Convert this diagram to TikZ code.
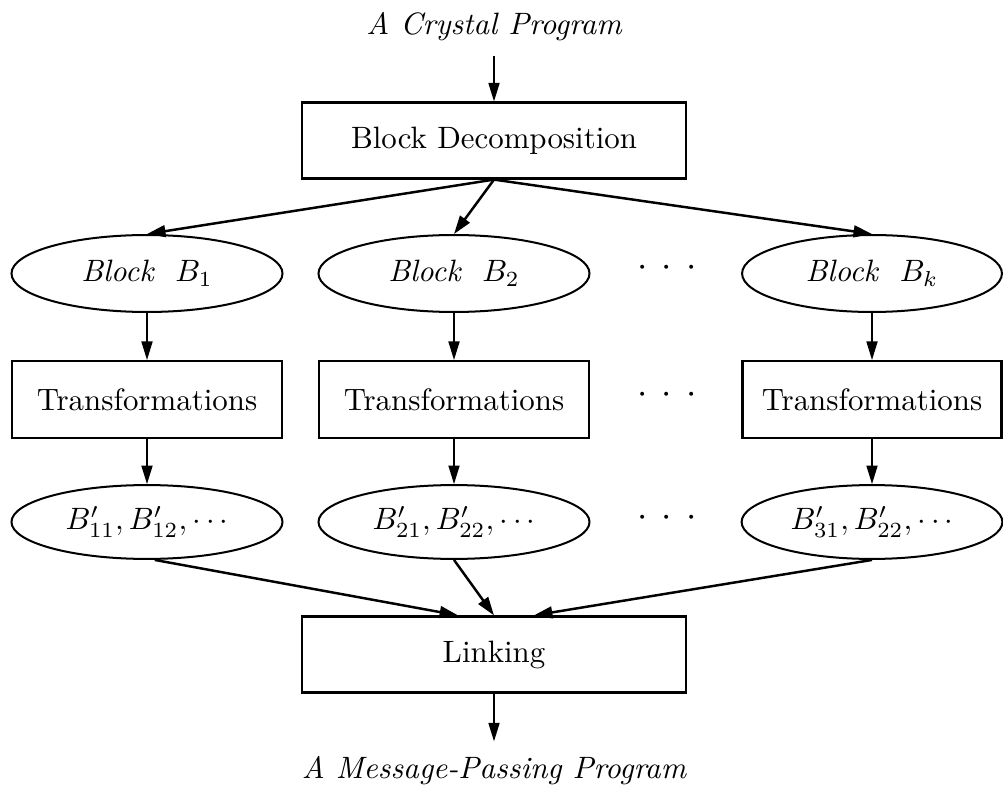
\documentclass[tikz,border=0pt]{standalone}
\usetikzlibrary{shapes.geometric,arrows.meta}
\begin{document}
\begin{tikzpicture}[x=0.3236pt,y=-0.3236pt,
  bigbox/.style={draw,line width=0.7pt,rectangle,inner sep=0pt,
    minimum width=124.4pt,minimum height=24.6pt},
  stagebox/.style={draw,line width=0.7pt,rectangle,inner sep=0pt,
    minimum width=87.4pt,minimum height=24.9pt},
  blob/.style={draw,line width=0.65pt,ellipse,inner sep=0pt,
    minimum width=87.7pt,minimum height=24.9pt},
  endlabel/.style={inner xsep=0pt,inner ysep=4.5pt,anchor=base,font=\itshape},
  flow/.style={line width=0.45pt,-{Triangle[length=6pt,width=3.6pt]}},
  fan/.style={line width=0.8pt,-{Triangle[length=6pt,width=3.8pt]}},
  more/.style={anchor=base,inner sep=0pt,font=\large}
]
\useasboundingbox (0,0) rectangle (1003,785);

% input and decomposition
\node[endlabel] (crystal) at (494,35) {A Crystal Program};
\node[bigbox] (bd) at (494,140.5) {Block Decomposition};

% blocks
\node[blob] (b1) at (147,273.5) {\textit{Block}~~$B_1$};
\node[blob] (b2) at (454,273.5) {\textit{Block}~~$B_2$};
\node[blob,minimum width=84.1pt] (bk) at (872,273.5) {\textit{Block}~~$B_k$};

% transformations
\node[stagebox] (t1) at (147,399.5) {Transformations};
\node[stagebox] (t2) at (454,399.5) {Transformations};
\node[stagebox,minimum width=83.8pt] (tk) at (872,399.5) {Transformations};

% transformed blocks
\node[blob,minimum height=23.9pt] (p1) at (147,522) {$B'_{11},B'_{12},\cdots$};
\node[blob,minimum height=23.9pt] (p2) at (454,522) {$B'_{21},B'_{22},\cdots$};
\node[blob,minimum height=23.9pt,minimum width=84.4pt] (pk) at (872,522) {$B'_{31},B'_{22},\cdots$};

% linking and output
\node[bigbox] (link) at (494,654.5) {Linking};
\node[endlabel] (msg) at (494,778) {A Message-Passing Program};

% ellipsis marks between the columns
\node[more] (d1) at (667,277) {$\cdot$\hspace{4.55pt}$\cdot$\hspace{4.55pt}$\cdot$};
\node[more] (d2) at (667,403) {$\cdot$\hspace{4.55pt}$\cdot$\hspace{4.55pt}$\cdot$};
\node[more] (d3) at (667,526) {$\cdot$\hspace{4.55pt}$\cdot$\hspace{4.55pt}$\cdot$};

% connectors
\draw[flow] (crystal.south) -- (bd.north);
\draw[fan] (bd.south) -- (b1.north);
\draw[fan] (bd.south) -- (b2.north);
\draw[fan] (bd.south) -- (bk.north);

\draw[flow] (b1.south) -- (t1.north);
\draw[flow] (b2.south) -- (t2.north);
\draw[flow] (bk.south) -- (tk.north);

\draw[flow] (t1.south) -- (p1.north);
\draw[flow] (t2.south) -- (p2.north);
\draw[flow] (tk.south) -- (pk.north);

\draw[fan] ([xshift=2.5pt]p1.south) -- ([xshift=-11.6pt]link.north);
\draw[fan] (p2.south) -- (link.north);
\draw[fan] (pk.south) -- ([xshift=12.9pt]link.north);

\draw[flow] (link.south) -- (msg.north);
\end{tikzpicture}
\end{document}
